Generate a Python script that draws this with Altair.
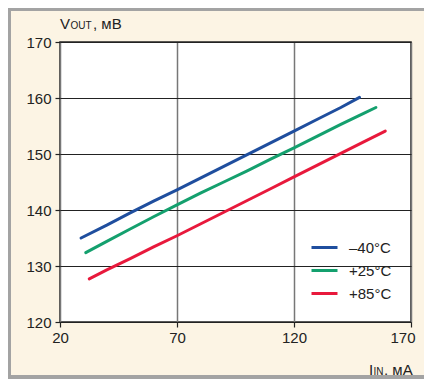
import altair as alt
import pandas as pd

# ---- data ----
series_names = ["–40°C", "+25°C", "+85°C"]
series_colors = ["#1f4e9e", "#14a06e", "#e8193c"]

x_m40 = [29, 40, 50, 60, 70, 80, 90, 100, 110, 120, 130, 140, 148]
y_m40 = [135.0, 137.3, 139.5, 141.6, 143.6, 145.7, 147.8, 149.9, 152.0, 154.1, 156.2, 158.3, 160.1]

x_p25 = [31, 40, 50, 60, 70, 80, 90, 100, 110, 120, 130, 140, 150, 155]
y_p25 = [132.4, 134.4, 136.6, 138.8, 140.9, 143.0, 145.0, 147.0, 149.1, 151.1, 153.2, 155.3, 157.3, 158.3]

x_p85 = [32.5, 40, 50, 60, 70, 80, 90, 100, 110, 120, 130, 140, 150, 159]
y_p85 = [127.7, 129.3, 131.3, 133.4, 135.4, 137.5, 139.6, 141.7, 143.8, 145.9, 148.0, 150.1, 152.2, 154.1]

x_ticks = [20, 70, 120, 170]
y_ticks = [120, 130, 140, 150, 160, 170]

rows = []
for name, xs, ys in zip(series_names, [x_m40, x_p25, x_p85], [y_m40, y_p25, y_p85]):
    for i, (a, b) in enumerate(zip(xs, ys)):
        rows.append({"series": name, "I": a, "V": b, "order": i})
df = pd.DataFrame(rows)

FONT = "Liberation Sans"
W, H = 351, 280
PL, PT, PR, PB = 52, 34, 13, 57
BG = "#fcf4e4"
FRAME = "#a3a3a3"

lines = alt.Chart(df).mark_line(strokeWidth=3, strokeCap="round", strokeJoin="round").encode(
    x=alt.X("I:Q", scale=alt.Scale(domain=[20, 170], nice=False, zero=False),
            axis=alt.Axis(values=x_ticks, title=None, grid=True, gridColor="#777777",
                          gridWidth=1.5, labelPadding=3, labelFlush=False,
                          labelAlign={"condition": {"test": "datum.value == 170", "value": "right"},
                                      "value": "center"},
                          labelOffset={"condition": {"test": "datum.value == 170", "value": 4},
                                       "value": 0})),
    y=alt.Y("V:Q", scale=alt.Scale(domain=[120, 170], nice=False, zero=False),
            axis=alt.Axis(values=y_ticks, title=None, grid=True, gridColor="#222222",
                          gridWidth=1, labelPadding=4, labelFlush=False)),
    color=alt.Color("series:N", scale=alt.Scale(domain=series_names, range=series_colors),
                    legend=alt.Legend(title=None, orient="none", legendX=250, legendY=191,
                                      symbolType="stroke", symbolSize=676, symbolStrokeWidth=3,
                                      labelFontSize=15, labelFont=FONT, labelColor="#222222",
                                      labelOffset=10, rowPadding=-2.5, padding=0)),
    order="order:Q",
)

one = pd.DataFrame({"a": [0]})

def txt(s, x, y, size, align="left"):
    return alt.Chart(one).mark_text(text=s, font=FONT, fontSize=size, color="#222222",
                                    align=align, baseline="alphabetic").encode(
        x=alt.value(x), y=alt.value(y))

titles = [
    txt("V", 0, -13, 15),
    txt("OUT", 10.5, -13, 10),
    txt(", мВ", 33, -13, 15),
    txt("I", 309, 333, 15),
    txt("IN", 313.5, 333, 10),
    txt(", мА", 324, 333, 15),
]

def rule(x, x2, y, y2, w):
    return alt.Chart(one).mark_rule(color=FRAME, strokeWidth=w).encode(
        x=alt.value(x), x2=alt.value(x2), y=alt.value(y), y2=alt.value(y2))

frame = [
    rule(-PL, W + PR, -PT + 1.5, -PT + 1.5, 3),
    rule(-PL + 1.5, -PL + 1.5, -PT, H + PB, 3),
    rule(-PL, W + PR, H + PB - 2, H + PB - 2, 4),
]

chart = alt.layer(lines, *titles, *frame).properties(
    width=W, height=H,
    autosize=alt.AutoSizeParams(type="none"),
    padding={"left": PL, "top": PT, "right": PR, "bottom": PB},
    background=BG,
).configure_view(
    fill="white", stroke="#222222", strokeWidth=1.5
).configure_axis(
    domain=False, tickColor="#222222", tickSize=5, tickWidth=1.2,
    labelFont=FONT, labelFontSize=15, labelColor="#222222",
)

chart.save("out.html", embed_options={"renderer": "svg", "actions": False})
